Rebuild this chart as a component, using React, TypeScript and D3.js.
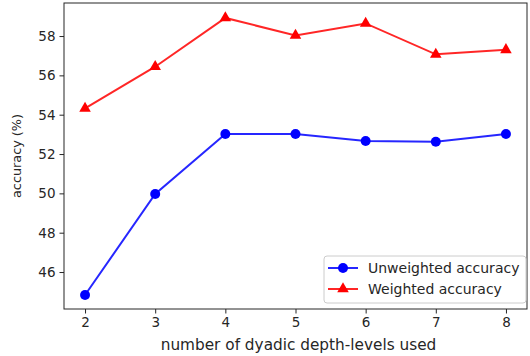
import { useEffect, useRef } from "react";
import * as d3 from "d3";

const levels = [2, 3, 4, 5, 6, 7, 8];
const unweighted = [44.83, 49.97, 53.02, 53.02, 52.66, 52.62, 53.02];
const weighted = [54.32, 56.44, 58.92, 58.03, 58.64, 57.07, 57.3];
const yTicks = [46, 48, 50, 52, 54, 56, 58];

export default function App() {
  const ref = useRef<SVGSVGElement>(null);

  useEffect(() => {
    if (!ref.current) return;
    const svg = d3.select(ref.current);
    svg.selectAll("*").remove();

    const width = 530;
    const height = 356;
    const margin = { top: 3, right: 3, bottom: 47, left: 64 };
    const font = "DejaVu Sans, sans-serif";
    const ink = "#262626";

    const x = d3
      .scaleLinear()
      .domain([1.7, 8.3])
      .range([margin.left, width - margin.right]);
    const y = d3
      .scaleLinear()
      .domain([44.12, 59.68])
      .range([height - margin.bottom, margin.top]);

    // frame
    svg
      .append("rect")
      .attr("x", margin.left)
      .attr("y", margin.top)
      .attr("width", width - margin.left - margin.right)
      .attr("height", height - margin.top - margin.bottom)
      .attr("fill", "white")
      .attr("stroke", ink)
      .attr("stroke-width", 1);

    const xAxis = svg
      .append("g")
      .attr("transform", `translate(0,${height - margin.bottom})`)
      .call(d3.axisBottom(x).tickValues(levels).tickFormat(d3.format("d")).tickSize(4.5).tickPadding(4));
    const yAxis = svg
      .append("g")
      .attr("transform", `translate(${margin.left},0)`)
      .call(d3.axisLeft(y).tickValues(yTicks).tickSize(4.5).tickPadding(4));
    [xAxis, yAxis].forEach((g) => {
      g.select(".domain").remove();
      g.selectAll("line").attr("stroke", ink);
      g.selectAll("text").attr("fill", ink).attr("font-family", font).attr("font-size", 13.5);
    });

    const series = [
      { name: "Unweighted accuracy", values: unweighted, color: "#0000ff", shape: d3.symbolCircle, size: 78 },
      { name: "Weighted accuracy", values: weighted, color: "#ff0000", shape: d3.symbolTriangle, size: 58 },
    ];

    const line = d3
      .line<number>()
      .x((_, i) => x(levels[i]))
      .y((d) => y(d));

    series.forEach((s) => {
      svg
        .append("path")
        .datum(s.values)
        .attr("fill", "none")
        .attr("stroke", s.color)
        .attr("stroke-opacity", 0.85)
        .attr("stroke-width", 2)
        .attr("d", line);
      svg
        .append("g")
        .selectAll("path")
        .data(s.values)
        .join("path")
        .attr("transform", (d, i) => `translate(${x(levels[i])},${y(d)})`)
        .attr("d", d3.symbol(s.shape, s.size)())
        .attr("fill", s.color);
    });

    // legend
    const lg = svg.append("g").attr("transform", "translate(324,256)");
    lg.append("rect")
      .attr("width", 202)
      .attr("height", 47)
      .attr("rx", 3)
      .attr("fill", "white")
      .attr("fill-opacity", 0.8)
      .attr("stroke", "#cccccc");
    series.forEach((s, i) => {
      const cy = 12 + i * 21;
      lg.append("line")
        .attr("x1", 4)
        .attr("x2", 34)
        .attr("y1", cy)
        .attr("y2", cy)
        .attr("stroke", s.color)
        .attr("stroke-opacity", 0.85)
        .attr("stroke-width", 2);
      lg.append("path")
        .attr("transform", `translate(19,${cy})`)
        .attr("d", d3.symbol(s.shape, s.size)())
        .attr("fill", s.color);
      lg.append("text")
        .attr("x", 44)
        .attr("y", cy)
        .attr("dy", "0.35em")
        .attr("fill", ink)
        .attr("font-family", font)
        .attr("font-size", 14)
        .text(s.name);
    });

    svg
      .append("text")
      .attr("x", 298.5)
      .attr("y", 350)
      .attr("text-anchor", "middle")
      .attr("fill", ink)
      .attr("font-family", font)
      .attr("font-size", 15.3)
      .text("number of dyadic depth-levels used");

    svg
      .append("text")
      .attr("transform", `translate(21,156) rotate(-90)`)
      .attr("text-anchor", "middle")
      .attr("fill", ink)
      .attr("font-family", font)
      .attr("font-size", 12.8)
      .text("accuracy (%)");
  }, []);

  return (
    <svg
      ref={ref}
      width={530}
      height={356}
      style={{ position: "fixed", left: 0, top: 0, background: "white" }}
    />
  );
}
